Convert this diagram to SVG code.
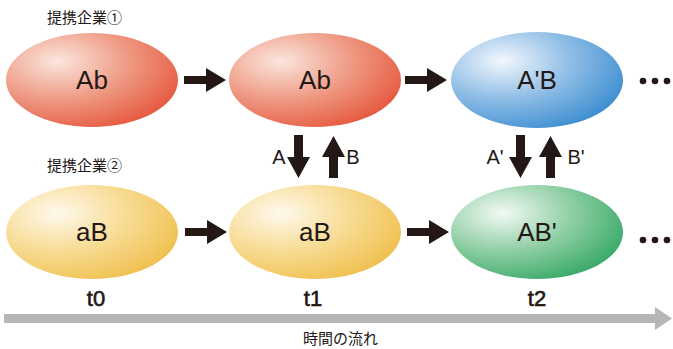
<svg xmlns="http://www.w3.org/2000/svg" width="673" height="349" viewBox="0 0 673 349">
<style>
.lbl{font-family:"Liberation Sans",Arial,sans-serif;font-size:26px;fill:#231815;text-anchor:middle}
.sm{font-family:"Liberation Sans",Arial,sans-serif;font-size:20px;fill:#231815;text-anchor:middle}
.t{font-family:"Liberation Sans",Arial,sans-serif;font-size:22px;fill:#231815;stroke:#231815;stroke-width:0.6;text-anchor:middle}
.jp{font-family:"Noto Sans CJK JP","Noto Sans",sans-serif;font-size:15px;fill:#231815}
.arr{fill:#231815}
.dot{fill:#231815}
</style>
<defs>
<radialGradient id="gRed" cx="0.3" cy="0.3" r="0.8" fx="0.3" fy="0.3">
<stop offset="0" stop-color="#fbe6de"/><stop offset="0.5" stop-color="#ef9c86"/><stop offset="1" stop-color="#e5573d"/>
</radialGradient>
<radialGradient id="gBlue" cx="0.3" cy="0.3" r="0.8" fx="0.3" fy="0.3">
<stop offset="0" stop-color="#f2f7fd"/><stop offset="0.5" stop-color="#8fbde6"/><stop offset="1" stop-color="#3a8cd0"/>
</radialGradient>
<radialGradient id="gYel" cx="0.3" cy="0.3" r="0.8" fx="0.3" fy="0.3">
<stop offset="0" stop-color="#fef9ec"/><stop offset="0.5" stop-color="#f8dc95"/><stop offset="1" stop-color="#efbf4c"/>
</radialGradient>
<radialGradient id="gGrn" cx="0.3" cy="0.3" r="0.8" fx="0.3" fy="0.3">
<stop offset="0" stop-color="#f2f9f4"/><stop offset="0.5" stop-color="#90cfa5"/><stop offset="1" stop-color="#35a866"/>
</radialGradient>
</defs>

<text class="jp" x="47" y="23">提携企業①</text>
<text class="jp" x="47" y="171">提携企業②</text>

<g id="n1"><ellipse cx="92" cy="80" rx="86" ry="47" fill="url(#gRed)"/><text class="lbl" x="92" y="89">Ab</text></g>
<g id="n2"><ellipse cx="315" cy="80" rx="86" ry="47" fill="url(#gRed)"/><text class="lbl" x="315" y="89">Ab</text></g>
<g id="n3"><ellipse cx="537" cy="80" rx="86" ry="48" fill="url(#gBlue)"/><text class="lbl" x="537" y="89">A'B</text></g>
<g id="n4"><ellipse cx="92" cy="232" rx="86" ry="47" fill="url(#gYel)"/><text class="lbl" x="92" y="241">aB</text></g>
<g id="n5"><ellipse cx="315" cy="232" rx="86" ry="47" fill="url(#gYel)"/><text class="lbl" x="315" y="241">aB</text></g>
<g id="n6"><ellipse cx="537" cy="232" rx="86" ry="47" fill="url(#gGrn)"/><text class="lbl" x="537" y="241">AB'</text></g>

<g id="connectors">
<polygon class="arr" points="184,76 206,76 206,68 226,80 206,92 206,84 184,84"/>
<polygon class="arr" points="405,76 427,76 427,68 447,80 427,92 427,84 405,84"/>
<polygon class="arr" points="185,228 207,228 207,220 227,232 207,244 207,236 185,236"/>
<polygon class="arr" points="407,228 429,228 429,220 449,232 429,244 429,236 407,236"/>
<polygon class="arr" points="294,135 303,135 303,157 310,157 298.5,178 287,157 294,157"/>
<polygon class="arr" points="329,178 338,178 338,157 345,157 333.5,136 322,157 329,157"/>
<polygon class="arr" points="516,135 525,135 525,157 532,157 520.5,178 509,157 516,157"/>
<polygon class="arr" points="546,178 555,178 555,157 562,157 550.5,136 539,157 546,157"/>
<polygon fill="#b5b6b8" points="4,314 655,314 655,307 672,318.5 655,330 655,323 4,323"/>
</g>
<text class="sm" x="279" y="164">A</text>
<text class="sm" x="353" y="164">B</text>
<text class="sm" x="495" y="164">A'</text>
<text class="sm" x="576" y="164">B'</text>

<circle class="dot" cx="643" cy="81" r="3.3"/><circle class="dot" cx="655" cy="81" r="3.3"/><circle class="dot" cx="667" cy="81" r="3.3"/>
<circle class="dot" cx="643" cy="240" r="3.3"/><circle class="dot" cx="655" cy="240" r="3.3"/><circle class="dot" cx="667" cy="240" r="3.3"/>

<text class="t" x="96" y="306">t0</text>
<text class="t" x="313" y="306">t1</text>
<text class="t" x="537" y="306">t2</text>
<text class="jp" x="303" y="344">時間の流れ</text>
</svg>
